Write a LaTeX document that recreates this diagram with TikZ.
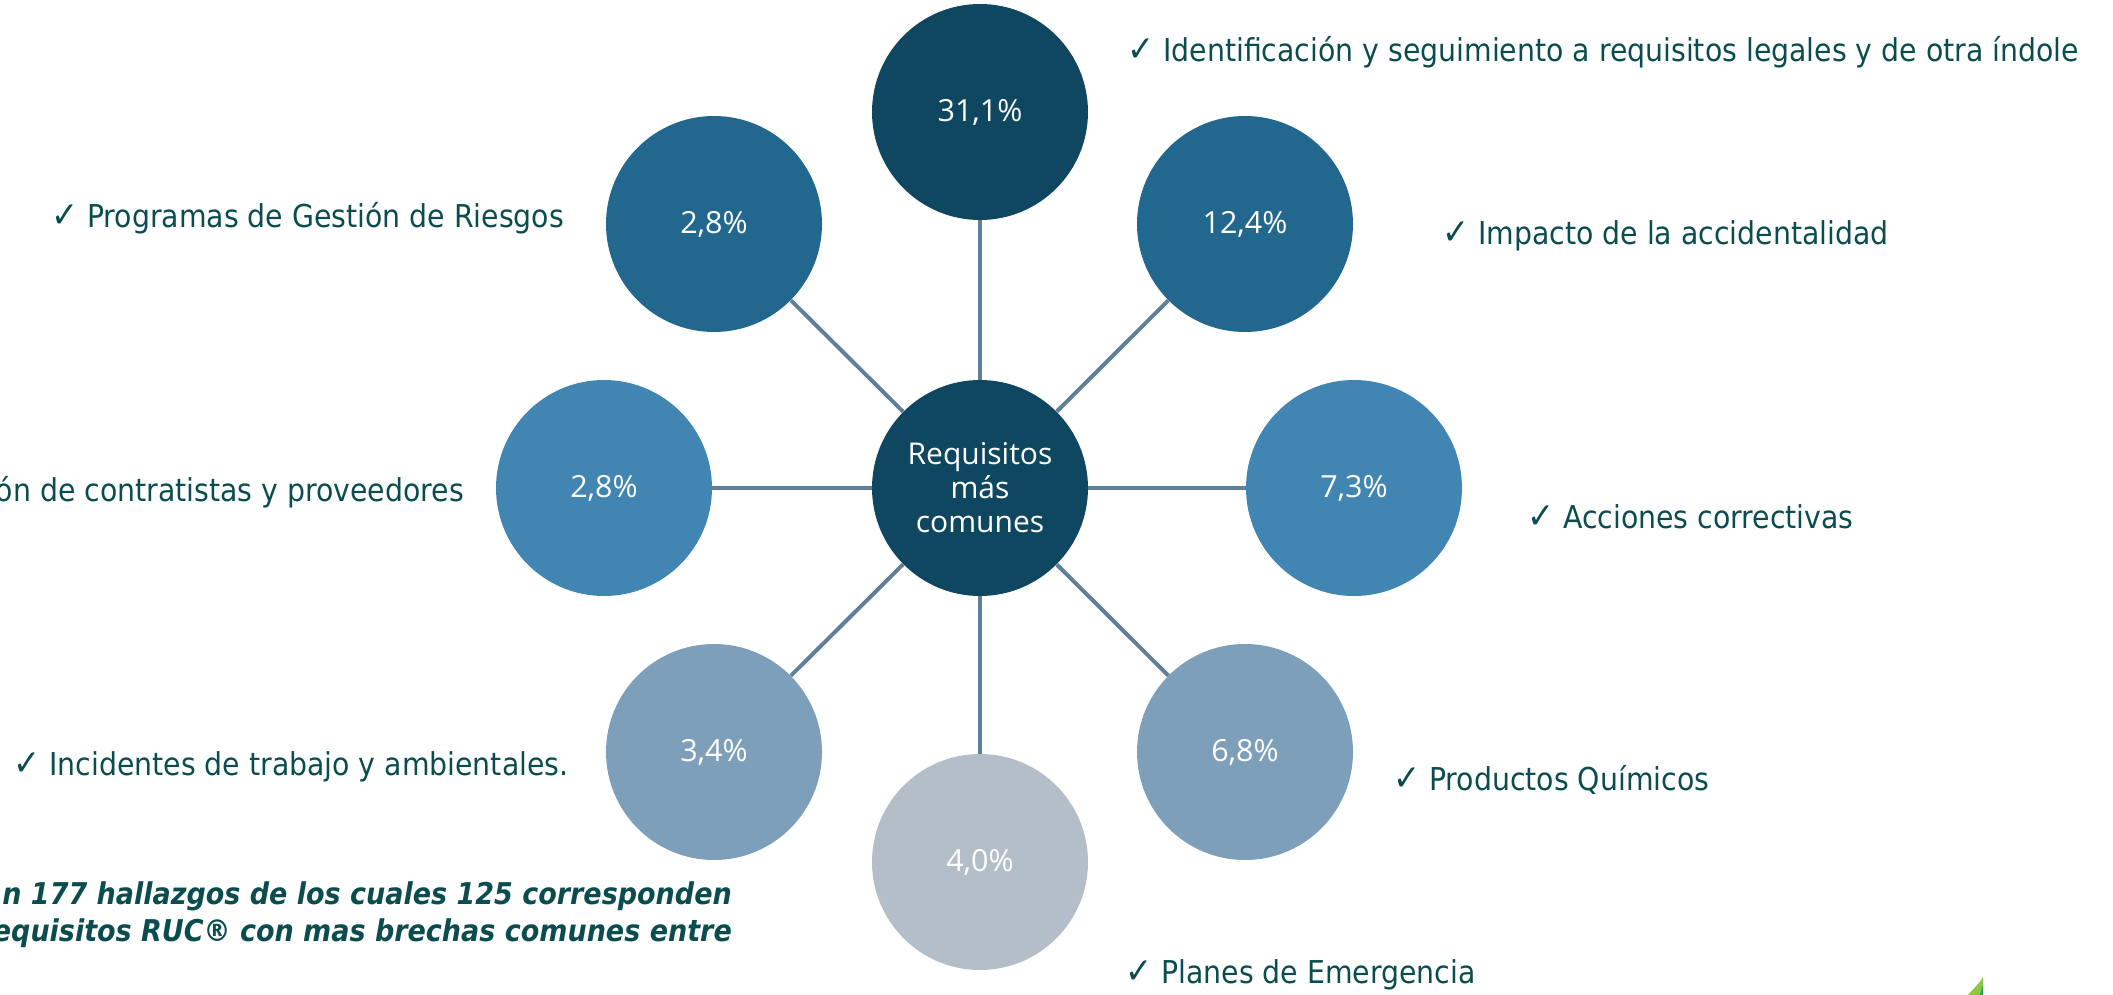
\documentclass[tikz,border=0pt]{standalone}
\usepackage{fontspec}
\setmainfont{DejaVu Sans Condensed}
\newfontfamily\numfont{Open Sans}
\newcommand{\chk}{{\fontsize{36}{36}\selectfont ✓}}
\definecolor{cdark}{HTML}{0F4761}
\definecolor{ctwo}{HTML}{22678E}
\definecolor{cthree}{HTML}{4186B2}
\definecolor{cfour}{HTML}{7E9FBA}
\definecolor{cfive}{HTML}{B3BEC9}
\definecolor{linec}{HTML}{60809A}
\definecolor{txt}{HTML}{0B4D4F}
\definecolor{leafg}{HTML}{8DC63F}
\definecolor{leafd}{HTML}{1FA35A}
\begin{document}
\begin{tikzpicture}[x=1pt,y=-1pt,
  bub/.style={circle, minimum size=216pt, inner sep=0pt, text=white, font=\numfont\fontsize{30.5}{36}\selectfont},
  lbl/.style={anchor=base west, inner sep=0pt, text=txt, font=\fontsize{31.5}{36}\selectfont},
  lble/.style={anchor=base east, inner sep=0pt, text=txt, font=\fontsize{31.5}{36}\selectfont},
  note/.style={anchor=base east, inner sep=0pt, text=txt, font=\bfseries\itshape\fontsize{30}{36}\selectfont},
  conn/.style={draw=linec, line width=4pt}]
\clip (0,0) rectangle (2113,995);
\path[use as bounding box] (0,0) rectangle (2113,995);

\node[bub, fill=cdark, align=center, font=\numfont\fontsize{30}{34}\selectfont] (c) at (980,488) {Requisitos\\más\\comunes};
\node[bub, fill=cdark] (n) at (980,112) {31,1\%};
\node[bub, fill=ctwo] (ne) at (1245,224) {12,4\%};
\node[bub, fill=cthree] (e) at (1354,488) {7,3\%};
\node[bub, fill=cfour] (se) at (1245,752) {6,8\%};
\node[bub, fill=cfive] (s) at (980,862) {4,0\%};
\node[bub, fill=cfour] (sw) at (714,752) {3,4\%};
\node[bub, fill=cthree] (w) at (604,488) {2,8\%};
\node[bub, fill=ctwo] (nw) at (714,224) {2,8\%};

\foreach \o in {n,ne,e,se,s,sw,w,nw} \draw[conn] (c) -- (\o);

\node[lbl] (l1) at (1127,62) {\chk\ Identificación y seguimiento a requisitos legales y de otra índole};
\node[lbl] (l2) at (51,228) {\chk\ Programas de Gestión de Riesgos};
\node[lbl] (l3) at (1442,245) {\chk\ Impacto de la accidentalidad};
\node[lble] (l4) at (464,501) {ón de contratistas y proveedores};
\node[lbl] (l5) at (1527,528) {\chk\ Acciones correctivas};
\node[lbl] (l6) at (13,775) {\chk\ Incidentes de trabajo y ambientales.};
\node[lbl] (l7) at (1393,790) {\chk\ Productos Químicos};
\node[lbl] (l8) at (1125,983) {\chk\ Planes de Emergencia};

\node[note] (t1) at (732,904) {n 177 hallazgos de los cuales 125 corresponden};
\node[note] (t2) at (732,941) {equisitos RUC® con mas brechas comunes entre};

\fill[leafg] (1983,977) -- (1983,995) -- (1968,995) .. controls (1974,988) and (1980,983) .. (1983,977) -- cycle;
\fill[leafd] (1983,985) -- (1983,995) -- (1980,995) .. controls (1981,991) .. (1983,985) -- cycle;
\end{tikzpicture}
\end{document}
